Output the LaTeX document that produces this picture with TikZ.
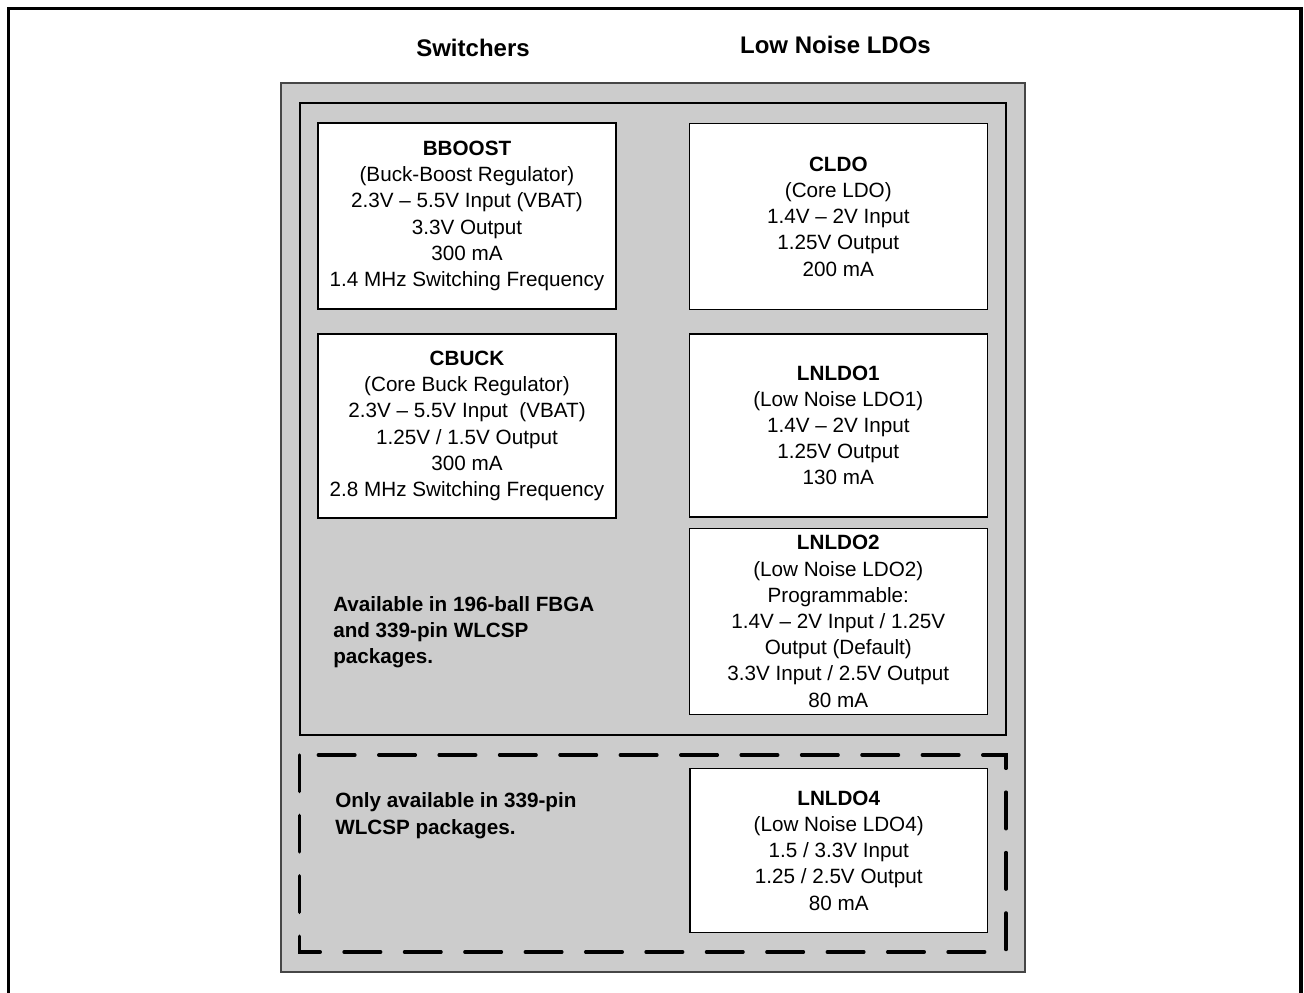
\documentclass[tikz,border=0pt]{standalone}
\usepackage{fontspec}
\setmainfont{Liberation Sans}
\definecolor{pkggray}{RGB}{204,204,204}
\definecolor{rimgray}{RGB}{70,70,70}
\newcommand{\bodyfont}{\fontsize{15.5pt}{19.65pt}\selectfont}
\newcommand{\headfont}{\fontsize{18pt}{22pt}\selectfont\bfseries}
\begin{document}
\begin{tikzpicture}[x=0.75pt,y=-0.75pt,
  blk/.style={draw=black, line width=1.1pt, fill=white, inner sep=0pt,
    minimum width=223.5pt, minimum height=139.5pt, align=center, font=\bodyfont},
  head/.style={inner sep=0pt, anchor=base, font=\headfont},
  note/.style={inner sep=0pt, anchor=west, align=left, font=\bodyfont\bfseries},
  pkgbox/.style={draw=rimgray, line width=0.9pt, fill=pkggray},
  fullpkg/.style={draw=black, line width=1.7pt},
  wlcsp/.style={draw=black, line width=2.6pt, line cap=round,
    dash pattern=on 27.4pt off 17.9pt}
]
\useasboundingbox (0,0) rectangle (1304,993);

% page frame, open at the bottom
\draw[line width=2.4pt] (8.3,993) -- (8.3,8.5) -- (1301,8.5) -- (1301,993);

% column headings
\node[head] (swhead)  at (473,56)   {Switchers};
\node[head] (ldohead) at (835.5,53) {Low Noise LDOs};

% package outline and its two regions
\draw[pkgbox]  (281,83)  rectangle (1025,972);
\draw[fullpkg] (300,103) rectangle (1006,735);
\draw[wlcsp]   (299.5,755) -- (299.5,952) -- (1006,952) -- (1006,755) -- cycle;

% switchers
\node[blk] (bboost) at (467,216) {\textbf{BBOOST}\\(Buck-Boost Regulator)\\2.3V – 5.5V Input (VBAT)\\3.3V Output\\300 mA\\1.4 MHz Switching Frequency};
\node[blk, minimum height=138pt] (cbuck) at (467,426) {\textbf{CBUCK}\\(Core Buck Regulator)\\2.3V – 5.5V Input\ \ (VBAT)\\1.25V / 1.5V Output\\300 mA\\2.8 MHz Switching Frequency};

% low noise LDOs
\node[blk] (cldo) at (838.3,216.5) {\textbf{CLDO}\\(Core LDO)\\1.4V – 2V Input\\1.25V Output\\200 mA};
\node[blk, minimum height=137.25pt] (lnldo1) at (838.3,425.3) {\textbf{LNLDO1}\\(Low Noise LDO1)\\1.4V – 2V Input\\1.25V Output\\130 mA};
\node[blk] (lnldo2) at (838.3,621.3) {\textbf{LNLDO2}\\(Low Noise LDO2)\\Programmable:\\1.4V – 2V Input / 1.25V\\Output (Default)\\3.3V Input / 2.5V Output\\80 mA};
\node[blk, minimum width=223pt, minimum height=123.3pt] (lnldo4) at (838.7,850.5) {\textbf{LNLDO4}\\(Low Noise LDO4)\\1.5 / 3.3V Input\\1.25 / 2.5V Output\\80 mA};

% package notes
\node[note] (allpkg)  at (333,632)   {Available in 196-ball FBGA\\and 339-pin WLCSP\\packages.};
\node[note] (wlcspnote) at (335,815.7) {Only available in 339-pin\\WLCSP packages.};
\end{tikzpicture}
\end{document}
